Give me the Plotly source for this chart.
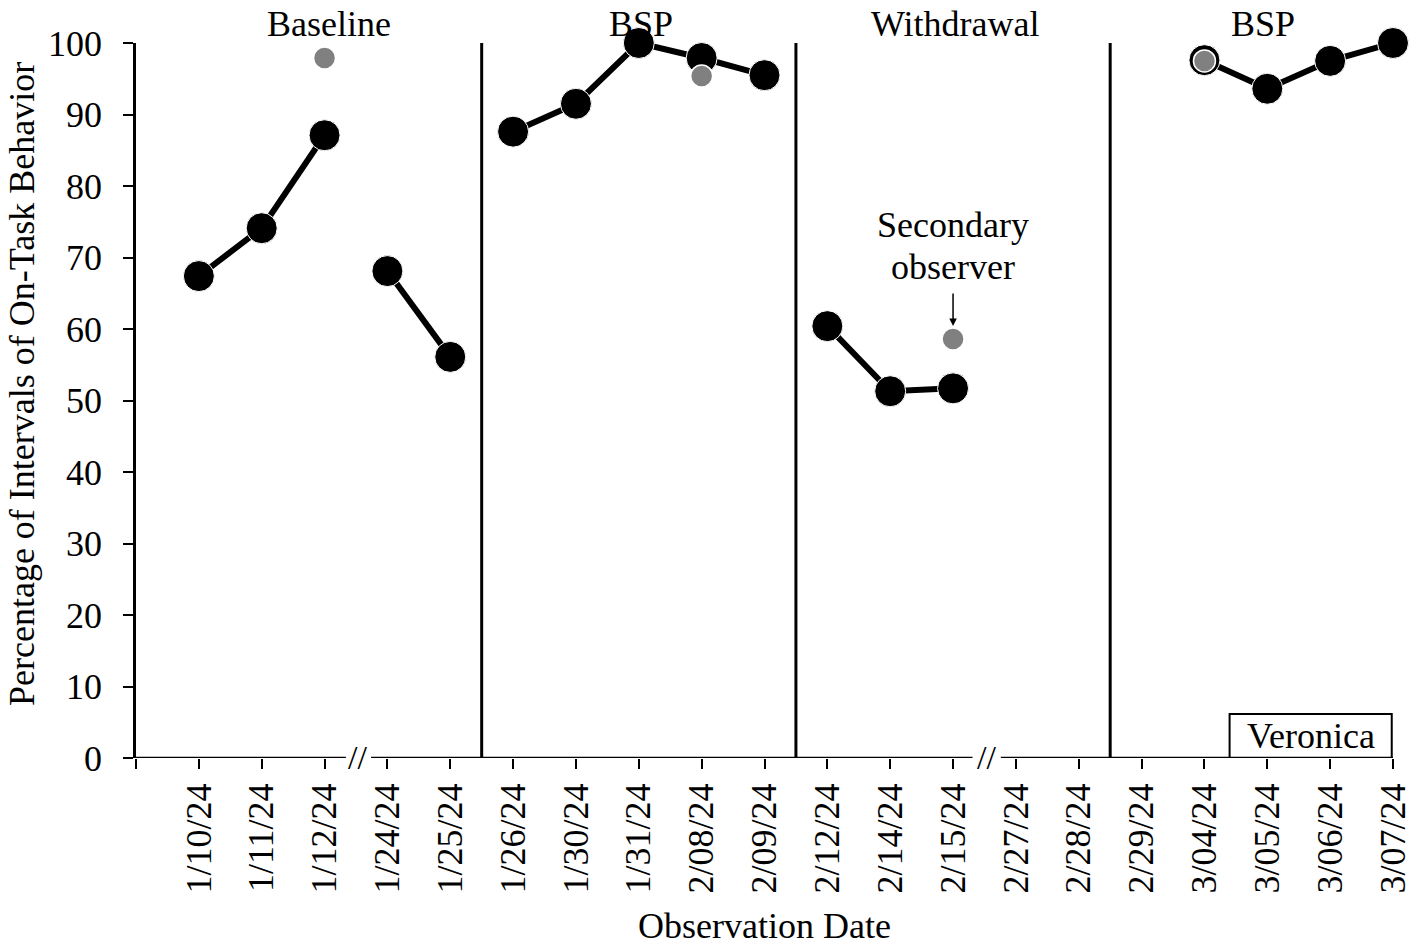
import plotly.graph_objects as go

# Observation dates (x categories)
dates = ["1/10/24", "1/11/24", "1/12/24", "1/24/24", "1/25/24",
         "1/26/24", "1/30/24", "1/31/24", "2/08/24", "2/09/24",
         "2/12/24", "2/14/24", "2/15/24", "2/27/24", "2/28/24",
         "2/29/24", "3/04/24", "3/05/24", "3/06/24", "3/07/24"]

# Primary observer, % of intervals on-task (None = no session)
primary = [67.4, 74.1, 87.1, 68.1, 56.1,
           87.6, 91.5, 100.0, 97.9, 95.5,
           60.4, 51.3, 51.7, None, None,
           None, 97.6, 93.6, 97.5, 100.0]

# Secondary observer (reliability checks)
secondary = [None, None, 97.9, None, None,
             None, None, None, 95.4, None,
             None, None, 58.6, None, None,
             None, 97.5, None, None, None]

# Connected runs of data points (start, end index)
segments = [(0, 2), (3, 4), (5, 9), (10, 12), (16, 19)]

phase_names = ["Baseline", "BSP", "Withdrawal", "BSP"]
phase_label_x = [2.07, 7.03, 12.04, 16.93]
phase_change_x = [4.5, 9.5, 14.5]
axis_breaks = [2.53, 12.54]

FONT = "Liberation Serif"
FS = 36
xs = list(range(len(dates)))

fig = go.Figure()

# Line segments
for a, b in segments:
    fig.add_trace(go.Scatter(
        x=xs[a:b + 1], y=primary[a:b + 1],
        mode="lines+markers",
        line=dict(color="black", width=6),
        marker=dict(color="black", size=31, line=dict(color="white", width=1)),
        cliponaxis=False, showlegend=False, hoverinfo="x+y"))

# Secondary observer points
fig.add_trace(go.Scatter(
    x=xs, y=secondary, mode="markers",
    marker=dict(color="#808080", size=22, line=dict(color="white", width=1.5)),
    cliponaxis=False, showlegend=False))

shapes = []
# phase change lines
for px in phase_change_x:
    shapes.append(dict(type="line", xref="x", yref="y", x0=px, x1=px, y0=0, y1=100,
                       line=dict(color="black", width=3)))
# x-axis line with breaks
xa_pieces = [(-1, 2.34), (2.74, 12.31), (12.76, 19)]
for a, b in xa_pieces:
    shapes.append(dict(type="line", xref="x", yref="y", x0=a, x1=b, y0=0, y1=0,
                       line=dict(color="black", width=2.5)))
# participant name box
shapes.append(dict(type="rect", xref="x", yref="y", x0=16.4, x1=18.98, y0=0, y1=6.15,
                   line=dict(color="black", width=2), fillcolor="white", layer="below"))

annotations = []
for name, lx in zip(phase_names, phase_label_x):
    annotations.append(dict(x=lx, y=1.026, xref="x", yref="paper", yanchor="middle",
                            text=name, showarrow=False,
                            font=dict(family=FONT, size=FS, color="black")))
for bx in axis_breaks:
    annotations.append(dict(x=bx, y=0.1, xref="x", yref="y", text="//", showarrow=False,
                            font=dict(family=FONT, size=34, color="black")))
annotations.append(dict(x=12, y=74.5, xref="x", yref="y", text="Secondary",
                        showarrow=False, font=dict(family=FONT, size=FS, color="black")))
annotations.append(dict(x=12, y=68.7, xref="x", yref="y", text="observer",
                        showarrow=False, font=dict(family=FONT, size=FS, color="black")))
annotations.append(dict(x=12, y=58.6, xref="x", yref="y", text="", showarrow=True,
                        ax=0, ay=-47, arrowhead=2, arrowsize=1, arrowwidth=1.5,
                        arrowcolor="black", standoff=13))
annotations.append(dict(x=17.69, y=3.1, xref="x", yref="y", text="Veronica", showarrow=False,
                        font=dict(family=FONT, size=FS, color="black")))
# axis titles
annotations.append(dict(x=0.5, y=-0.235, xref="paper", yref="paper",
                        xanchor="center", yanchor="middle", showarrow=False,
                        text="Observation Date",
                        font=dict(family=FONT, size=FS, color="black")))
annotations.append(dict(x=-0.0907, y=0.523, xref="paper", yref="paper",
                        xanchor="center", yanchor="middle", showarrow=False, textangle=-90,
                        text="Percentage of Intervals of On-Task Behavior",
                        font=dict(family=FONT, size=FS, color="black")))

fig.update_layout(
    width=1405, height=934,
    margin=dict(l=128, r=20, t=35, b=184),
    paper_bgcolor="white", plot_bgcolor="white",
    font=dict(family=FONT, size=FS, color="black"),
    shapes=shapes, annotations=annotations,
    xaxis=dict(
        range=[-1, 19], tickmode="array", automargin=False,
        tickvals=[-1] + xs, ticktext=[""] + dates,
        tickangle=-90, ticks="outside", ticklen=10, tickwidth=2, tickcolor="black",
        showline=False, showgrid=False, zeroline=False,
        tickfont=dict(family=FONT, size=FS)),
    yaxis=dict(
        range=[0, 100], tickvals=list(range(0, 101, 10)), automargin=False,
        ticks="outside", ticklen=10, tickwidth=2, tickcolor="black",
        ticklabelstandoff=14,
        showline=True, linecolor="black", linewidth=2.5,
        showgrid=False, zeroline=False,
        tickfont=dict(family=FONT, size=FS)),
)

fig.write_html("out.html")
